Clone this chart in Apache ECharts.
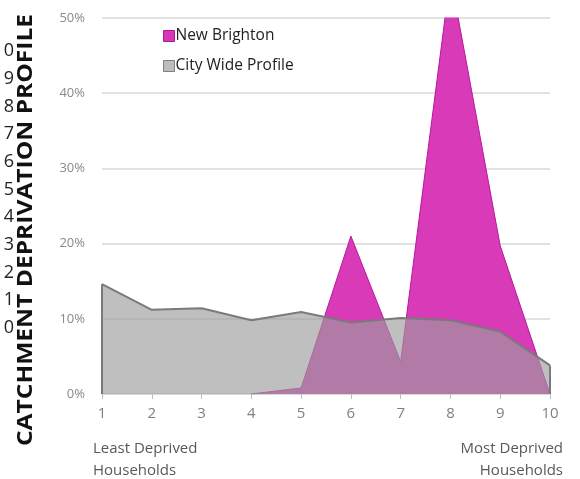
<!DOCTYPE html>
<html>
<head>
<meta charset="utf-8">
<script src="https://cdn.jsdelivr.net/npm/echarts@6/dist/echarts.min.js"></script>
<style>
html,body{margin:0;padding:0;background:#fff;}
#c{width:580px;height:479px;}
</style>
</head>
<body>
<div id="c"></div>
<script>
// ---- data ----
const categories = ['1','2','3','4','5','6','7','8','9','10'];
const newBrighton = [null, null, null, 0, 0.8, 21.0, 4.3, 55.6, 19.7, 0];
const cityWide = [14.6, 11.2, 11.4, 9.8, 10.9, 9.5, 10.1, 9.8, 8.3, 3.8];
const yTicks = [0, 10, 20, 30, 40, 50];
const sideLabels = ['10','9','8','7','6','5','4','3','2','1','0'];
const leftNote = 'Least Deprived\nHouseholds';
const rightNote = 'Most Deprived\nHouseholds';
const yTitle = 'CATCHMENT DEPRIVATION PROFILE';

const FONT = '"Open Sans", sans-serif';
const chart = echarts.init(document.getElementById('c'), null, {renderer: 'canvas'});

const graphics = [];
sideLabels.forEach((t, i) => {
  graphics.push({
    type: 'text', x: 14, y: 51 + i * 27.7,
    style: {text: t, font: '18px ' + FONT, fill: '#222', align: 'right', verticalAlign: 'middle'}
  });
});
graphics.push({
  type: 'text', x: 26, y: 230, rotation: Math.PI / 2, scaleX: 1.17,
  style: {text: yTitle, font: 'bold 21px ' + FONT, fill: '#111', align: 'center', verticalAlign: 'middle'}
});
graphics.push({
  type: 'text', x: 93, y: 438,
  style: {text: leftNote, font: '15px ' + FONT, fill: '#595959', lineHeight: 22, align: 'left'}
});
graphics.push({
  type: 'text', x: 563, y: 438,
  style: {text: rightNote, font: '15px ' + FONT, fill: '#595959', lineHeight: 22, align: 'right'}
});

chart.setOption({
  animation: false,
  backgroundColor: '#fff',
  textStyle: {fontFamily: FONT},
  grid: {left: 102, right: 30, top: 18, bottom: 85, containLabel: false},
  legend: {
    orient: 'vertical', left: 158, top: 23, itemGap: 14,
    itemWidth: 11, itemHeight: 11, icon: 'rect',
    textStyle: {fontSize: 15.5, color: '#222', fontFamily: FONT, padding: [0, 0, 0, -4]},
    data: [
      {name: 'New Brighton', itemStyle: {color: '#d836b8', borderColor: '#b0169a', borderWidth: 1}},
      {name: 'City Wide Profile', itemStyle: {color: '#bdbdbd', borderColor: '#7f7f7f', borderWidth: 1}}
    ]
  },
  xAxis: {
    type: 'category', data: categories, boundaryGap: false,
    axisLine: {show: true, lineStyle: {color: '#d9d9d9', width: 1}},
    axisTick: {show: true, length: 5, lineStyle: {color: '#bfbfbf'}},
    axisLabel: {color: '#7f7f7f', fontSize: 15, margin: 12, fontFamily: FONT},
    splitLine: {show: false}
  },
  yAxis: {
    type: 'value', min: yTicks[0], max: yTicks[yTicks.length - 1], interval: 10,
    axisLine: {show: false}, axisTick: {show: false},
    axisLabel: {color: '#8a8a8a', fontSize: 13, margin: 17, formatter: v => v + '%', fontFamily: FONT},
    splitLine: {lineStyle: {color: '#d9d9d9', width: 1.5}}
  },
  series: [
    {
      name: 'New Brighton', type: 'line', data: newBrighton, symbol: 'none', clip: true,
      lineStyle: {color: '#b8179f', width: 1},
      itemStyle: {color: '#d836b8'},
      areaStyle: {color: '#d93ab8', opacity: 1},
      z: 2
    },
    {
      name: 'City Wide Profile', type: 'line', data: cityWide, symbol: 'none', clip: true,
      lineStyle: {color: '#7a7a7a', width: 2},
      itemStyle: {color: '#bdbdbd'},
      areaStyle: {color: 'rgba(157,157,157,0.65)', opacity: 1},
      markLine: {
        silent: true, symbol: 'none', label: {show: false},
        lineStyle: {color: '#7a7a7a', width: 2, type: 'solid'},
        data: [
          [{coord: [categories[0], 0]}, {coord: [categories[0], cityWide[0]]}],
          [{coord: [categories[9], 0]}, {coord: [categories[9], cityWide[9]]}]
        ]
      },
      z: 3
    }
  ],
  graphic: graphics
});
</script>
</body>
</html>
